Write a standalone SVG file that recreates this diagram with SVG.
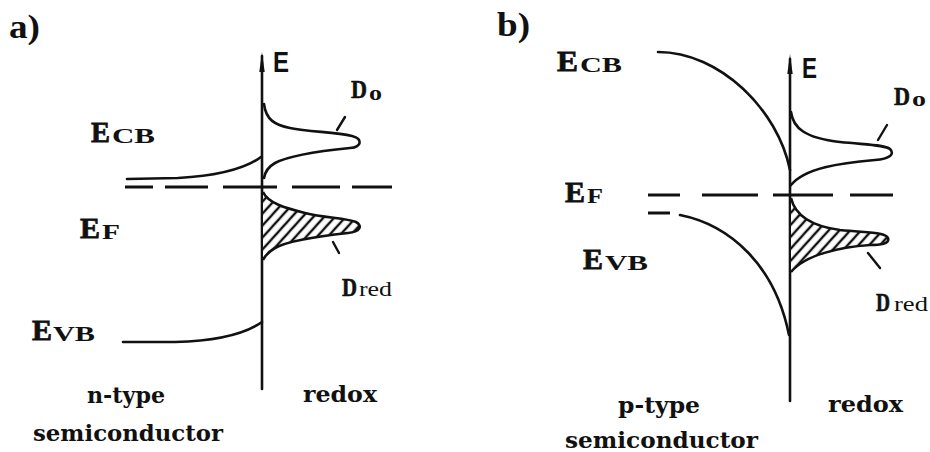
<svg xmlns="http://www.w3.org/2000/svg" width="930" height="452" viewBox="0 0 930 452">
<defs>
<style>
.ln{fill:none;stroke:#111;stroke-width:2.6;stroke-linecap:round;stroke-linejoin:round}
.tk{fill:none;stroke:#111;stroke-width:2.4;stroke-linecap:round}
.ds{fill:none;stroke:#111;stroke-width:3;stroke-linecap:butt}
.hat{fill:url(#hatch);stroke:#111;stroke-width:2.6;stroke-linejoin:round}
.big{font-family:"Liberation Serif","Times New Roman",serif;font-weight:bold;font-size:30px;fill:#111;stroke:#111;stroke-width:0.8}
.sub{font-family:"Liberation Serif","Times New Roman",serif;font-weight:bold;font-size:20px;fill:#111}
.lab{font-family:"Liberation Serif","Times New Roman",serif;font-weight:bold;font-size:34px;fill:#111}
.bot{font-family:"DejaVu Serif","Liberation Serif",serif;font-weight:bold;font-size:22px;fill:#111}
.ax{font-family:"Liberation Sans",Arial,sans-serif;font-weight:bold;font-size:29px;fill:#111}
.dd{font-family:"Liberation Serif","Times New Roman",serif;font-weight:bold;font-size:26px;fill:#111;stroke:#111;stroke-width:0.6}
.ds2{font-family:"Liberation Serif","Times New Roman",serif;font-weight:normal;font-size:20px;fill:#111}
</style>
<pattern id="hatch" patternUnits="userSpaceOnUse" width="8" height="8" patternTransform="rotate(42)">
<rect width="8" height="8" fill="#fff"/>
<line x1="2" y1="0" x2="2" y2="8" stroke="#111" stroke-width="2.4"/>
</pattern>
</defs>
<rect width="930" height="452" fill="#fff"/>

<g id="panel-a">
<text class="lab" x="9" y="38" textLength="31" lengthAdjust="spacingAndGlyphs">a)</text>
<line class="ln" x1="262" y1="56" x2="262" y2="389"/>
<path d="M262,52 L259.3,72 L264.7,72 Z" fill="#111"/>
<text class="ax" x="273" y="72" textLength="16" lengthAdjust="spacingAndGlyphs">E</text>
<path class="ln" d="M264,104 C266,120 275,125 290,128 C310,132 335,132 352,136 C363,139 362,147 350,148 C320,151 290,155 275,163 C268,167 265,172 264,178"/>
<line class="tk" x1="337" y1="130" x2="345" y2="117"/>
<text class="dd" x="351" y="98" textLength="16" lengthAdjust="spacingAndGlyphs">D</text>
<text class="sub" x="369" y="100" textLength="13" lengthAdjust="spacingAndGlyphs">o</text>
<path class="ln" d="M127,179 L178,178 C215,176 245,169 261,157"/>
<g class="ds">
<line x1="125" y1="187" x2="153" y2="187"/>
<line x1="165" y1="187" x2="208" y2="187"/>
<line x1="223" y1="187" x2="277" y2="187"/>
<line x1="292" y1="187" x2="340" y2="187"/>
<line x1="352" y1="187" x2="392" y2="187"/>
</g>
<path class="hat" d="M263,192 C268,203 285,208 305,213 C325,218 345,218 356,222 C363,226 360,232 348,233 C320,236 290,240 275,248 C268,252 265,256 263,260"/>
<line class="tk" x1="333" y1="242" x2="339" y2="253"/>
<text class="dd" x="342" y="296" textLength="15" lengthAdjust="spacingAndGlyphs">D</text>
<text class="ds2" x="359" y="296" textLength="33" lengthAdjust="spacingAndGlyphs">red</text>
<path class="ln" d="M123,342 L175,342 C215,341 245,334 262,322"/>
<text class="big" x="91" y="142" textLength="19" lengthAdjust="spacingAndGlyphs">E</text>
<text class="sub" x="112" y="143" textLength="43" lengthAdjust="spacingAndGlyphs">CB</text>
<text class="big" x="80" y="238" textLength="20" lengthAdjust="spacingAndGlyphs">E</text>
<text class="sub" x="102" y="239" textLength="18" lengthAdjust="spacingAndGlyphs">F</text>
<text class="big" x="32" y="340" textLength="20" lengthAdjust="spacingAndGlyphs">E</text>
<text class="sub" x="53" y="341" textLength="42" lengthAdjust="spacingAndGlyphs">VB</text>
<text class="bot" x="87" y="403" textLength="78" lengthAdjust="spacingAndGlyphs">n-type</text>
<text class="bot" x="33" y="441" textLength="190" lengthAdjust="spacingAndGlyphs">semiconductor</text>
<text class="bot" x="303" y="402" textLength="74" lengthAdjust="spacingAndGlyphs">redox</text>
</g>

<g id="panel-b">
<text class="lab" x="497" y="36" textLength="33" lengthAdjust="spacingAndGlyphs">b)</text>
<line class="ln" x1="790" y1="59" x2="790" y2="401"/>
<path d="M790,54 L787.3,74 L792.7,74 Z" fill="#111"/>
<text class="ax" x="802" y="78" textLength="15" lengthAdjust="spacingAndGlyphs">E</text>
<path class="ln" d="M658,52 C720,52 778,110 790,170"/>
<path class="ln" d="M791,112 C793,128 805,138 840,142 C870,145 885,145 890,149 C895,154 890,159 875,160 C840,163 805,168 791,185"/>
<line class="tk" x1="878" y1="140" x2="887" y2="125"/>
<text class="dd" x="894" y="105" textLength="16" lengthAdjust="spacingAndGlyphs">D</text>
<text class="sub" x="912" y="106" textLength="14" lengthAdjust="spacingAndGlyphs">o</text>
<g class="ds">
<line x1="648" y1="195" x2="680" y2="195"/>
<line x1="702" y1="195" x2="758" y2="195"/>
<line x1="773" y1="195" x2="833" y2="195"/>
<line x1="850" y1="195" x2="893" y2="195"/>
<line x1="648" y1="213" x2="670" y2="213"/>
</g>
<path class="ln" d="M680,215 C730,225 775,265 789,335"/>
<path class="hat" d="M791,198 C795,215 810,226 840,230 C870,233 885,232 888,238 C890,244 880,245 870,245 C840,247 805,255 791,272"/>
<line class="tk" x1="868" y1="253" x2="880" y2="268"/>
<text class="dd" x="876" y="311" textLength="14" lengthAdjust="spacingAndGlyphs">D</text>
<text class="ds2" x="894" y="311" textLength="34" lengthAdjust="spacingAndGlyphs">red</text>
<text class="big" x="557" y="71" textLength="21" lengthAdjust="spacingAndGlyphs">E</text>
<text class="sub" x="580" y="72" textLength="42" lengthAdjust="spacingAndGlyphs">CB</text>
<text class="big" x="565" y="202" textLength="20" lengthAdjust="spacingAndGlyphs">E</text>
<text class="sub" x="587" y="203" textLength="16" lengthAdjust="spacingAndGlyphs">F</text>
<text class="big" x="583" y="269" textLength="20" lengthAdjust="spacingAndGlyphs">E</text>
<text class="sub" x="605" y="270" textLength="43" lengthAdjust="spacingAndGlyphs">VB</text>
<text class="bot" x="618" y="413" textLength="82" lengthAdjust="spacingAndGlyphs">p-type</text>
<text class="bot" x="565" y="448" textLength="193" lengthAdjust="spacingAndGlyphs">semiconductor</text>
<text class="bot" x="828" y="412" textLength="75" lengthAdjust="spacingAndGlyphs">redox</text>
</g>
</svg>
